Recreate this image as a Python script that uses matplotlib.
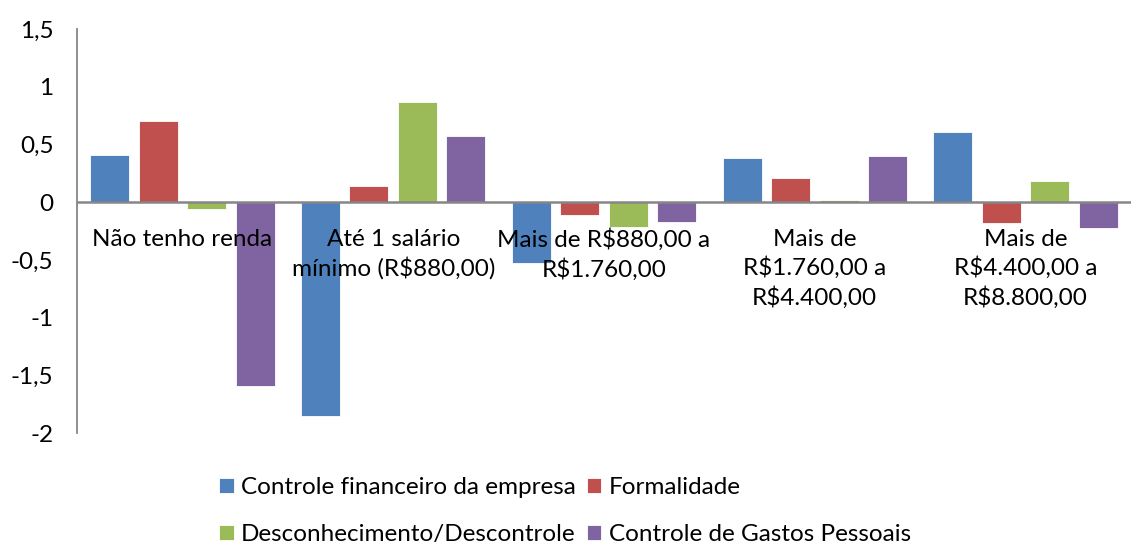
import numpy as np
import matplotlib.pyplot as plt

plt.rcParams['font.family'] = ['Lato', 'DejaVu Sans']

# Categorias (faixas de renda)
categorias = [
    'Não tenho renda',
    'Até 1 salário\nmínimo (R\\$880,00)',
    'Mais de R\\$880,00 a\nR\\$1.760,00',
    'Mais de\nR\\$1.760,00 a\nR\\$4.400,00',
    'Mais de\nR\\$4.400,00 a\nR\\$8.800,00',
]

series = ['Controle financeiro da empresa', 'Formalidade',
          'Desconhecimento/Descontrole', 'Controle de Gastos Pessoais']

controle_financeiro = [0.41, -1.85, -0.53, 0.38, 0.61]
formalidade = [0.70, 0.14, -0.115, 0.21, -0.18]
desconhecimento = [-0.057, 0.87, -0.216, 0.017, 0.185]
gastos_pessoais = [-1.59, 0.57, -0.17, 0.40, -0.22]

yticks = [1.5, 1, 0.5, 0, -0.5, -1, -1.5, -2]
yticklabels = ['1,5', '1', '0,5', '0', '-0,5', '-1', '-1,5', '-2']

cores = ['#4F81BD', '#C0504D', '#9BBB59', '#8064A2']
fs = 17.5

fig = plt.figure(figsize=(11.32, 5.45), dpi=100)
ax = fig.add_axes([77 / 1132, 1 - 433 / 545, (1131 - 77) / 1132, (433 - 29) / 545])

x = np.arange(len(categorias))
largura = 0.185
passo = 0.23
dados = [controle_financeiro, formalidade, desconhecimento, gastos_pessoais]
handles = []
for i, valores in enumerate(dados):
    h = ax.bar(x + (i - 1.5) * passo, valores, largura, color=cores[i],
               edgecolor='white', linewidth=0.6, label=series[i], zorder=2)
    handles.append(h)

ax.set_xlim(-0.5, len(categorias) - 0.5)
ax.set_ylim(-2, 1.5)
ax.set_yticks(yticks)
ax.set_yticklabels(yticklabels, fontsize=fs)
ax.tick_params(axis='y', length=0, pad=17)
ax.set_xticks([])

for s in ['top', 'right', 'bottom']:
    ax.spines[s].set_visible(False)
ax.spines['left'].set_color('#868686')
ax.spines['left'].set_linewidth(1.3)
ax.axhline(0, color='#868686', linewidth=1.8, zorder=3)

for xi, rot in zip(x, categorias):
    ax.annotate(rot, xy=(xi, 0), xytext=(0, -19), textcoords='offset points',
                ha='center', va='top', fontsize=fs, linespacing=1.38, zorder=4)

# legenda em duas colunas (preenche por coluna)
ordem = [0, 2, 1, 3]
fig.legend([handles[i] for i in ordem], [series[i] for i in ordem], loc='upper left',
           bbox_to_anchor=(219 / 1132, 1 - 477 / 545), ncol=2, frameon=False,
           fontsize=fs, handlelength=0.6, handleheight=0.6,
           handletextpad=0.3, columnspacing=0.45, labelspacing=1.08,
           borderpad=0, borderaxespad=0)

fig.savefig('out.png', dpi=100)
